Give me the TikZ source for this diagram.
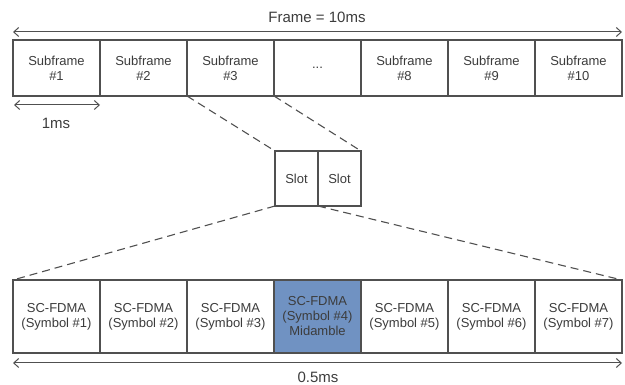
\documentclass[tikz,border=0pt]{standalone}
\usepackage{fontspec}
\setmainfont{Liberation Sans}
\usetikzlibrary{arrows.meta}
\definecolor{linec}{RGB}{80,80,80}
\definecolor{textc}{RGB}{60,60,60}
\definecolor{midc}{RGB}{112,146,194}
\tikzset{
  cell/.style={draw=linec, line width=1.2pt, fill=white, inner sep=0pt, outer sep=0pt,
    align=center, text=textc, font=\fontsize{13}{15}\selectfont},
  topcell/.style={cell, minimum width=87pt, minimum height=56pt},
  slotcell/.style={cell, minimum width=43pt, minimum height=55pt},
  symcell/.style={cell, minimum width=87pt, minimum height=73pt},
  zoomline/.style={draw=linec, line width=1.1pt, dash pattern=on 8pt off 5pt},
  span/.style={draw=linec, line width=1pt, {Straight Barb[length=5pt,width=9pt]}-{Straight Barb[length=5pt,width=9pt]}},
  lbl/.style={text=textc, font=\fontsize{15}{17}\selectfont, inner sep=0pt}
}
\begin{document}
\begin{tikzpicture}[x=1pt,y=-1pt]
\useasboundingbox (0,0) rectangle (625,385);
% top row
\node[topcell] (sf1) at (56.5,68) {Subframe\\\#1};
\node[topcell] (sf2) at (143.5,68) {Subframe\\\#2};
\node[topcell] (sf3) at (230.5,68) {Subframe\\\#3};
\node[topcell] (sfd) at (317.5,68) {...};
\node[topcell] (sf8) at (404.5,68) {Subframe\\\#8};
\node[topcell] (sf9) at (491.5,68) {Subframe\\\#9};
\node[topcell] (sf10) at (578.5,68) {Subframe\\\#10};
% frame arrow
\draw[span] ([yshift=8pt]sf1.north west) -- ([yshift=8pt]sf10.north east);
\node[lbl] (frame) at (317,17) {Frame = 10ms};
% 1ms
\draw[span] ([yshift=-9pt,xshift=1pt]sf1.south west) -- ([yshift=-9pt]sf1.south east);
\node[lbl] (onems) at (56,123) {1ms};
% slots
\node[slotcell] (sl1) at (296.5,178.5) {Slot};
\node[slotcell] (sl2) at (339.5,178.5) {Slot};
% bottom row
\node[symcell] (sy1) at (56.5,316.5) {SC-FDMA\\(Symbol \#1)};
\node[symcell] (sy2) at (143.5,316.5) {SC-FDMA\\(Symbol \#2)};
\node[symcell] (sy3) at (230.5,316.5) {SC-FDMA\\(Symbol \#3)};
\node[symcell, fill=midc] (sy4) at (317.5,316.5) {SC-FDMA\\(Symbol \#4)\\Midamble};
\node[symcell] (sy5) at (404.5,316.5) {SC-FDMA\\(Symbol \#5)};
\node[symcell] (sy6) at (491.5,316.5) {SC-FDMA\\(Symbol \#6)};
\node[symcell] (sy7) at (578.5,316.5) {SC-FDMA\\(Symbol \#7)};
% zoom lines
\draw[zoomline] (sf3.south west) -- (sl1.north west);
\draw[zoomline] (sf3.south east) -- (sl2.north east);
\draw[zoomline] (sl1.south west) -- (sy1.north west);
\draw[zoomline] (sl1.south east) -- (sy7.north east);
% 0.5ms
\draw[span] ([yshift=-10pt]sy1.south west) -- ([yshift=-10pt]sy7.south east);
\node[lbl] (halfms) at (318,377) {0.5ms};
\end{tikzpicture}
\end{document}
